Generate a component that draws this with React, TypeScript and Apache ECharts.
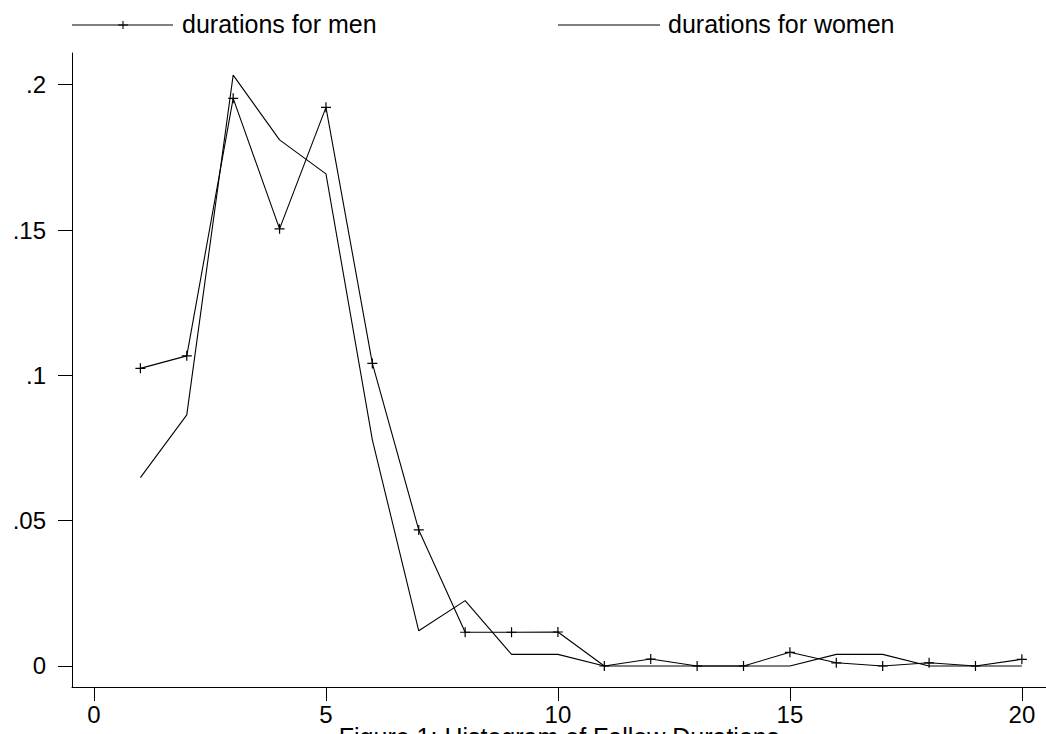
import React, { useEffect, useRef } from "react";
import * as echarts from "echarts";

const durations: number[] = [1, 2, 3, 4, 5, 6, 7, 8, 9, 10, 11, 12, 13, 14, 15, 16, 17, 18, 19, 20];
const menValues: number[] = [0.1024, 0.1067, 0.1953, 0.1504, 0.1922, 0.1041, 0.0468, 0.0116, 0.0116, 0.0117, 0, 0.0024, 0, 0, 0.0047, 0.0011, 0, 0.0011, 0, 0.0023];
const womenValues: number[] = [0.0648, 0.0864, 0.2033, 0.181, 0.1693, 0.0778, 0.0121, 0.0225, 0.004, 0.004, 0, 0, 0, 0, 0, 0.004, 0.004, 0, 0, 0];
const xTicks: number[] = [0, 5, 10, 15, 20];
const yTicks: number[] = [0, 0.05, 0.1, 0.15, 0.2];
const menLabel = "durations for men";
const womenLabel = "durations for women";
const captionText = "Figure 1: Histogram of Fallow Durations";

const FONT = "'Liberation Sans', Arial, Helvetica, sans-serif";
const PLUS = "path://M4.4,0h1.2v4.4h4.4v1.2h-4.4v4.4h-1.2v-4.4h-4.4v-1.2h4.4z";

export default function App() {
  const ref = useRef<HTMLDivElement>(null);
  useEffect(() => {
    if (!ref.current) return;
    const chart = echarts.init(ref.current, null, { renderer: "svg" });
    const fmtY = (v: number) => {
      if (Math.abs(v) < 1e-9) return "0";
      return String(Number(v.toFixed(4))).replace(/^0/, "");
    };
    chart.setOption({
      animation: false,
      backgroundColor: "#ffffff",
      grid: { left: 72, right: 0, top: 53, bottom: 47, containLabel: false },
      xAxis: {
        type: "value",
        min: -0.474,
        max: 20.52,
        splitLine: { show: false },
        axisLine: { show: true, onZero: false, lineStyle: { color: "#000", width: 1 } },
        axisTick: { show: true, length: 14, customValues: xTicks, lineStyle: { color: "#000", width: 1 } },
        axisLabel: {
          customValues: xTicks,
          margin: 15,
          fontSize: 24,
          fontFamily: FONT,
          color: "#000",
        },
      },
      yAxis: {
        type: "value",
        min: -0.00723,
        max: 0.2109,
        splitLine: { show: false },
        axisLine: { show: true, onZero: false, lineStyle: { color: "#000", width: 1 } },
        axisTick: { show: true, length: 14, customValues: yTicks, lineStyle: { color: "#000", width: 1 } },
        axisLabel: {
          customValues: yTicks,
          margin: 26,
          fontSize: 24,
          fontFamily: FONT,
          color: "#000",
          formatter: fmtY,
        },
      },
      series: [
        {
          name: menLabel,
          type: "line",
          data: durations.map((d, i) => [d, menValues[i]]),
          symbol: PLUS,
          symbolSize: 10,
          showSymbol: true,
          itemStyle: { color: "#000", borderWidth: 0 },
          lineStyle: { color: "#000", width: 1.1 },
          silent: true,
        },
        {
          name: womenLabel,
          type: "line",
          data: durations.map((d, i) => [d, womenValues[i]]),
          symbol: "none",
          showSymbol: false,
          lineStyle: { color: "#000", width: 1.1 },
          silent: true,
        },
      ],
      graphic: [
        { type: "line", shape: { x1: 72, y1: 25, x2: 173, y2: 25 }, style: { stroke: "#000", lineWidth: 1.1 } },
        { type: "line", shape: { x1: 118, y1: 25, x2: 128, y2: 25 }, style: { stroke: "#000", lineWidth: 1.1 } },
        { type: "line", shape: { x1: 123, y1: 21, x2: 123, y2: 29 }, style: { stroke: "#000", lineWidth: 1.1 } },
        {
          type: "text",
          x: 182,
          y: 23.5,
          style: { text: menLabel, fontSize: 25, fontFamily: FONT, fill: "#000", textVerticalAlign: "middle", textAlign: "left" },
        },
        { type: "line", shape: { x1: 558, y1: 25, x2: 660, y2: 25 }, style: { stroke: "#000", lineWidth: 1.1 } },
        {
          type: "text",
          x: 668,
          y: 23.5,
          style: { text: womenLabel, fontSize: 25, fontFamily: FONT, fill: "#000", textVerticalAlign: "middle", textAlign: "left" },
        },
        {
          type: "text",
          x: 559,
          y: 737,
          style: { text: captionText, fontSize: 25, fontFamily: FONT, fill: "#000", textVerticalAlign: "middle", textAlign: "center" },
        },
      ],
    });
    return () => chart.dispose();
  }, []);
  return (
    <div
      ref={ref}
      style={{ position: "fixed", left: 0, top: 0, width: 1046, height: 734, background: "#fff" }}
    />
  );
}
